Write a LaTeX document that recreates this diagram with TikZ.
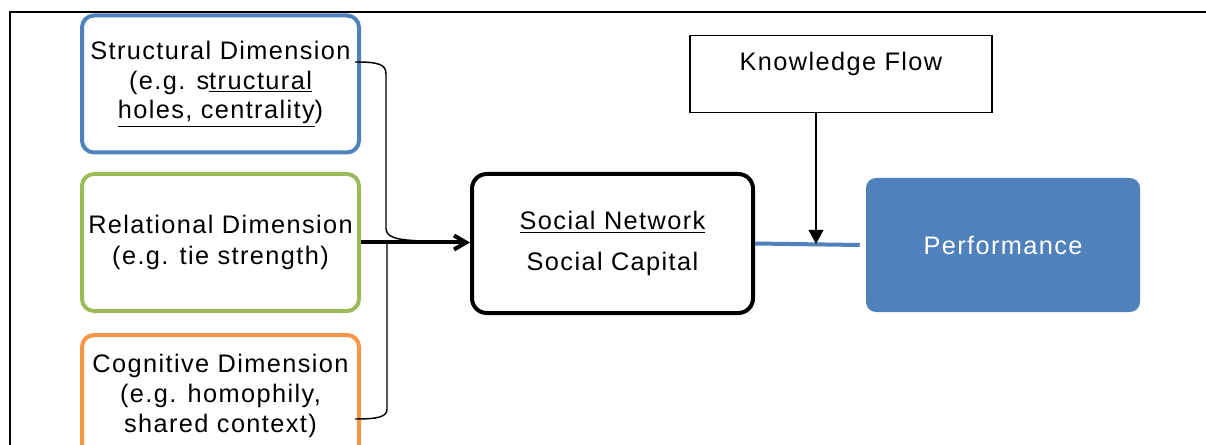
\documentclass[tikz,border=0pt]{standalone}
\usepackage{fontspec}
\setmainfont{Liberation Sans}[LetterSpace=5.5]
\usetikzlibrary{arrows.meta}
\definecolor{dimblue}{HTML}{4F81BD}
\definecolor{dimgreen}{HTML}{9BBB59}
\definecolor{dimorange}{HTML}{F79646}
\begin{document}
\begin{tikzpicture}[x=0.75pt,y=-0.75pt,
	font=\fontsize{19}{22.2}\selectfont,
	dimbox/.style={draw,line width=3pt,rounded corners=9pt,minimum width=207.75pt,align=center,inner sep=0pt},
	netbox/.style={draw,line width=3pt,rounded corners=11pt,minimum width=210.75pt,minimum height=104.25pt,align=center},
	flowbox/.style={draw,line width=1.1pt,minimum width=226.5pt,inner ysep=12.75pt,text height=13.5pt,text depth=18.75pt},
	perfbox/.style={fill=dimblue,rounded corners=7.5pt,minimum width=205.5pt,minimum height=100.5pt,text=white},
	thin line/.style={line width=1.1pt}]
	\useasboundingbox (0,0) rectangle (1206,445);
	\clip (0,0) rectangle (1206,445);
	% frame
	\draw[line width=1.2pt] (10,450) -- (10,12) -- (1210,12);
	% three dimensions
	\node[dimbox,draw=dimblue,minimum height=102.75pt] (struct) at (220.5,84)
		{Structural Dimension\\(e.g. s\underline{tructural}\\\underline{holes, centrality})};
	\node[dimbox,draw=dimgreen,minimum height=102.75pt] (rel) at (220.5,242.5)
		{Relational Dimension\\[1.5pt](e.g. tie strength)};
	\node[dimbox,draw=dimorange,minimum height=91.5pt] (cog) at (220.5,396)
		{Cognitive Dimension\\(e.g. homophily,\\shared context)};
	% social network and the rest
	\node[netbox] (soc) at (612.5,243.5) {\underline{Social Network}\\[8pt]Social Capital};
	\node[flowbox,anchor=north] (know) at (841,35) {Knowledge Flow};
	\node[perfbox] (perf) at (1003,245) {Performance};
	% brace
	\coordinate (btop) at (355,62);
	\coordinate (bbot) at (355,419);
	\coordinate (bmid) at (422,241);
	\draw[thin line] (btop) .. controls (378,62) and (386,64) .. (386,74) -- (386,228)
		.. controls (386,238) and (398,240) .. (bmid);
	\draw[thin line] (bbot) .. controls (378,419) and (387,417) .. (387,409) -- (387,243);
	% connectors
	\draw[line width=3pt,-{Straight Barb[length=9pt,width=10.5pt]}] (rel.east) -- (rel.east -| soc.west);
	\coordinate (kf) at (816,244);
	\draw[line width=3pt,dimblue] (soc.east) -- ([xshift=-4.5pt]perf.west);
	\draw[thin line,-{Triangle[length=10.5pt,width=11pt]}] (kf |- know.south) -- (kf);
\end{tikzpicture}
\end{document}
